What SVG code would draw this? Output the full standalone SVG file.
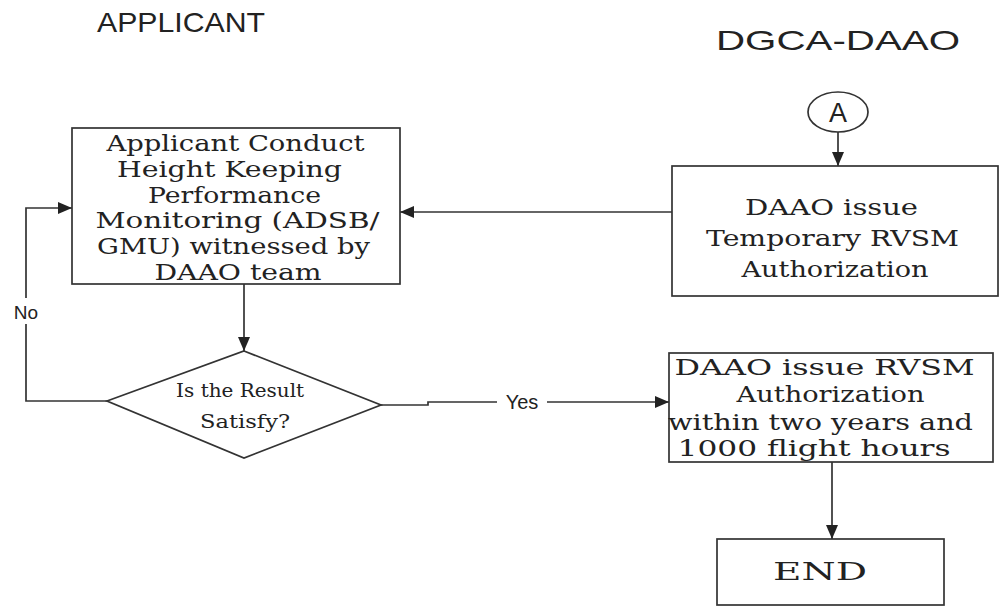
<svg xmlns="http://www.w3.org/2000/svg" width="1000" height="608" viewBox="0 0 1000 608">
  <style>
    .box { fill: #ffffff; stroke: #333333; stroke-width: 1.7; }
    .ser { font-family: "DejaVu Serif", "Liberation Serif", serif; fill: #222222; text-anchor: middle; }
    .sans { font-family: "Liberation Sans", Arial, sans-serif; fill: #222222; text-anchor: middle; }
    .con { fill: none; stroke: #333333; stroke-width: 1.7; }
  </style>
  <defs>
    <marker id="arr" markerUnits="userSpaceOnUse" markerWidth="16" markerHeight="12" refX="14" refY="6" orient="auto">
      <path d="M0,0 L14,6 L0,12 z" fill="#222222"/>
    </marker>
  </defs>
  <rect width="1000" height="608" fill="#ffffff"/>

  <g id="title-applicant">
    <text class="sans" x="181" y="32" font-size="28" textLength="168" lengthAdjust="spacingAndGlyphs">APPLICANT</text>
  </g>
  <g id="title-dgca">
    <text class="sans" x="838" y="50" font-size="28" textLength="244" lengthAdjust="spacingAndGlyphs">DGCA-DAAO</text>
  </g>

  <g id="connectors">
    <line class="con" x1="838" y1="132" x2="838" y2="166" marker-end="url(#arr)"/>
    <line class="con" x1="672" y1="212" x2="400" y2="212" marker-end="url(#arr)"/>
    <line class="con" x1="244" y1="284" x2="244" y2="351" marker-end="url(#arr)"/>
    <polyline class="con" points="107,401 26,401 26,208 72,208" marker-end="url(#arr)"/>
    <polyline class="con" points="381,405 428,405 428,402 669,402" marker-end="url(#arr)"/>
    <line class="con" x1="832" y1="462" x2="832" y2="539" marker-end="url(#arr)"/>
    <rect x="10" y="298" width="34" height="26" fill="#ffffff"/>
    <text class="sans" x="26" y="319" font-size="19">No</text>
    <rect x="497" y="390" width="50" height="24" fill="#ffffff"/>
    <text class="sans" x="522" y="409" font-size="20">Yes</text>
  </g>

  <g id="node-a">
    <ellipse cx="838" cy="112" rx="30" ry="20" fill="#ffffff" stroke="#333333" stroke-width="1.7"/>
    <text class="sans" x="838" y="122" font-size="27">A</text>
  </g>

  <g id="node-monitoring">
    <rect class="box" x="72" y="128" width="328" height="156"/>
    <text class="ser" font-size="22">
      <tspan x="239" y="151" textLength="258" lengthAdjust="spacingAndGlyphs">Applicant Conduct</tspan>
      <tspan x="233" y="177" textLength="225" lengthAdjust="spacingAndGlyphs">Height Keeping</tspan>
      <tspan x="238" y="203" textLength="173" lengthAdjust="spacingAndGlyphs">Performance</tspan>
      <tspan x="241" y="228" textLength="284" lengthAdjust="spacingAndGlyphs">Monitoring (ADSB/</tspan>
      <tspan x="237" y="254" textLength="273" lengthAdjust="spacingAndGlyphs">GMU) witnessed by</tspan>
      <tspan x="238" y="280" textLength="167" lengthAdjust="spacingAndGlyphs">DAAO team</tspan>
    </text>
  </g>

  <g id="node-temporary">
    <rect class="box" x="672" y="166" width="326" height="130"/>
    <text class="ser" font-size="22">
      <tspan x="835" y="215" textLength="173" lengthAdjust="spacingAndGlyphs">DAAO issue</tspan>
      <tspan x="836" y="246" textLength="253" lengthAdjust="spacingAndGlyphs">Temporary RVSM</tspan>
      <tspan x="835" y="277" textLength="187" lengthAdjust="spacingAndGlyphs">Authorization</tspan>
    </text>
  </g>

  <g id="node-decision">
    <polygon points="244,351 381,405 244,458 107,401" fill="#ffffff" stroke="#333333" stroke-width="1.7"/>
    <text class="ser" font-size="18">
      <tspan x="243" y="397" textLength="128" lengthAdjust="spacingAndGlyphs">Is the Result</tspan>
      <tspan x="245" y="428" textLength="90" lengthAdjust="spacingAndGlyphs">Satisfy?</tspan>
    </text>
  </g>

  <g id="node-authorization">
    <rect class="box" x="669" y="353" width="324" height="109"/>
    <text class="ser" font-size="22">
      <tspan x="828" y="375" textLength="300" lengthAdjust="spacingAndGlyphs">DAAO issue RVSM</tspan>
      <tspan x="834" y="402" textLength="188" lengthAdjust="spacingAndGlyphs">Authorization</tspan>
      <tspan x="824" y="430" textLength="305" lengthAdjust="spacingAndGlyphs">within two years and</tspan>
      <tspan x="814" y="456" textLength="273" lengthAdjust="spacingAndGlyphs">1000 flight hours</tspan>
    </text>
  </g>

  <g id="node-end">
    <rect class="box" x="717" y="539" width="227" height="66"/>
    <text class="ser" x="820" y="580" font-size="24" textLength="94" lengthAdjust="spacingAndGlyphs">END</text>
  </g>
</svg>
